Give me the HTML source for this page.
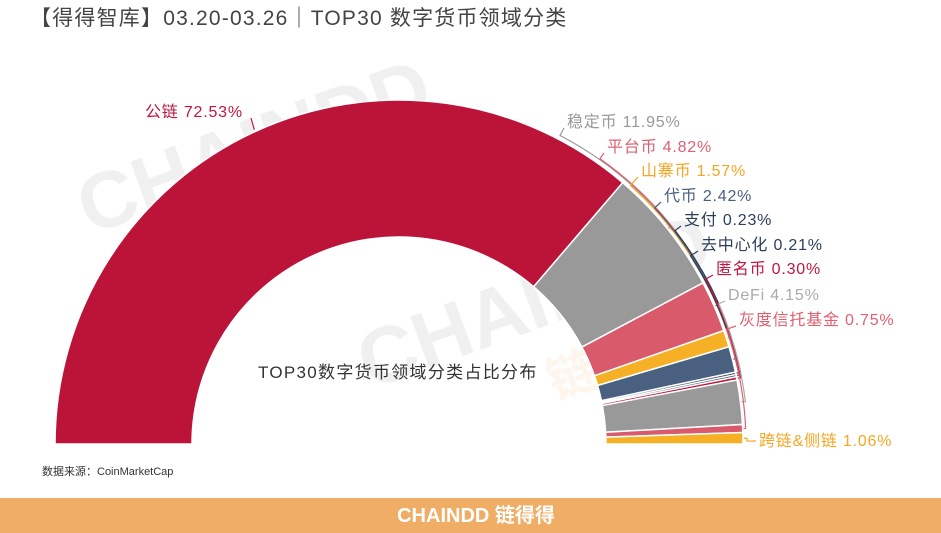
<!DOCTYPE html>
<html><head><meta charset="utf-8"><style>
html,body{margin:0;padding:0;background:#fff}
body{width:941px;height:533px;overflow:hidden;position:relative;font-family:"Liberation Sans","Noto Sans CJK SC",sans-serif}
</style></head><body>
<svg id="s" width="941" height="533" xmlns="http://www.w3.org/2000/svg" style="position:absolute;left:0;top:0">
<text x="30" y="25" font-size="21" letter-spacing="1.2" fill="#444" font-family="Liberation Sans, Noto Sans CJK SC, sans-serif">【得得智库】03.20-03.26｜TOP30 数字货币领域分类</text>
<g opacity="0.06" font-family="Liberation Sans, sans-serif" font-weight="bold" font-size="80" fill="#000">
<text x="90" y="235" transform="rotate(-20 90 235)">CHAINDD</text>
<text x="370" y="390" transform="rotate(-20 370 390)">CHAINDD</text>
</g>
<g opacity="0.1" font-family="Noto Sans CJK SC, sans-serif" font-weight="bold" font-size="50" fill="#f5a040">
<text x="265" y="250" transform="rotate(-20 265 250)">链得得</text>
<text x="555" y="400" transform="rotate(-20 555 400)">链得得</text>
</g>
<g id="slices"></g>
<g id="labels" font-size="16" letter-spacing="0.8" font-family="Liberation Sans, Noto Sans CJK SC, sans-serif"></g>
<text x="258" y="378" font-size="17" letter-spacing="1.3" fill="#333" font-family="Liberation Sans, Noto Sans CJK SC, sans-serif">TOP30数字货币领域分类占比分布</text>
<text x="42" y="475" font-size="11" fill="#333" font-family="Liberation Sans, Noto Sans CJK SC, sans-serif">数据来源：CoinMarketCap</text>
<rect x="0" y="498" width="941" height="35" fill="#f0ad65"/>
<text x="476" y="522" text-anchor="middle" font-size="20" font-weight="bold" fill="#fff" font-family="Liberation Sans, Noto Sans CJK SC, sans-serif">CHAINDD 链得得</text>
</svg>
<script>
var cx=399,cy=444,R=344,r=207;
var d=[["公链",72.53,"#bc1339","#c0163f",145,112],
["稳定币",11.95,"#999999","#999",567,122],
["平台币",4.82,"#d95a6a","#e06070",607,147],
["山寨币",1.57,"#f5b025","#f5a623",641,171],
["代币",2.42,"#4a6080","#4a6080",664,196],
["支付",0.23,"#2c3e5a","#2c3e5a",684,220],
["去中心化",0.21,"#2c3e5a","#2c3e5a",701,245],
["匿名币",0.30,"#c0163f","#c0163f",716,269],
["DeFi",4.15,"#999999","#aaa",728,295],
["灰度信托基金",0.75,"#d95a6a","#e06070",739,320],
["跨链&侧链",1.06,"#f5b025","#f5a623",759,441]];
var tot=0;d.forEach(function(e){tot+=e[1]});
function P(a,rr){return [cx-rr*Math.cos(a),cy-rr*Math.sin(a)]}
var ns="http://www.w3.org/2000/svg",a0=0,sg=document.getElementById("slices"),lg=document.getElementById("labels");
d.forEach(function(e,i){
 var a1=a0+Math.PI*e[1]/tot;
 var p1=P(a0,R),p2=P(a1,R),p3=P(a1,r),p4=P(a0,r);
 var path=document.createElementNS(ns,"path");
 path.setAttribute("d","M"+p1+" A"+R+","+R+" 0 0 1 "+p2+" L"+p3+" A"+r+","+r+" 0 0 0 "+p4+"Z");
 path.setAttribute("fill",e[2]);path.setAttribute("stroke","#fff");path.setAttribute("stroke-width","1.5");
 sg.appendChild(path);
 var am=(a0+a1)/2;
 var t=document.createElementNS(ns,"text");
 t.setAttribute("x",e[4]);t.setAttribute("y",e[5]+5);t.setAttribute("fill",e[3]);
 t.textContent=e[0]+" "+e[1].toFixed(2)+"%";
 lg.appendChild(t);
 var ln=document.createElementNS(ns,"path");
 var dd;
 if(i==0){
   var q=P(am,R+2);
   dd="M"+q+" L251,118";
 } else {
   var lx=e[4]-3,ly=e[5]+(i==10?0:6);
   var al=Math.atan2(cy-ly,cx-lx); // angle measured as in P
   al=Math.PI-Math.atan2(cy-ly,lx-cx);
   var rr=R+3+(i%3);
   var q=P(am,R+1),q2=P(am,rr),q3=P(al,rr);
   var sweep=al>am?1:0;
   dd="M"+q+" L"+q2+" A"+rr+","+rr+" 0 0 "+sweep+" "+q3+" L"+lx+","+ly;
 }
 ln.setAttribute("d",dd);
 ln.setAttribute("fill","none");ln.setAttribute("stroke",e[3]);ln.setAttribute("stroke-width","1.2");
 lg.appendChild(ln);
 a0=a1;
});
</script>
</body></html>
